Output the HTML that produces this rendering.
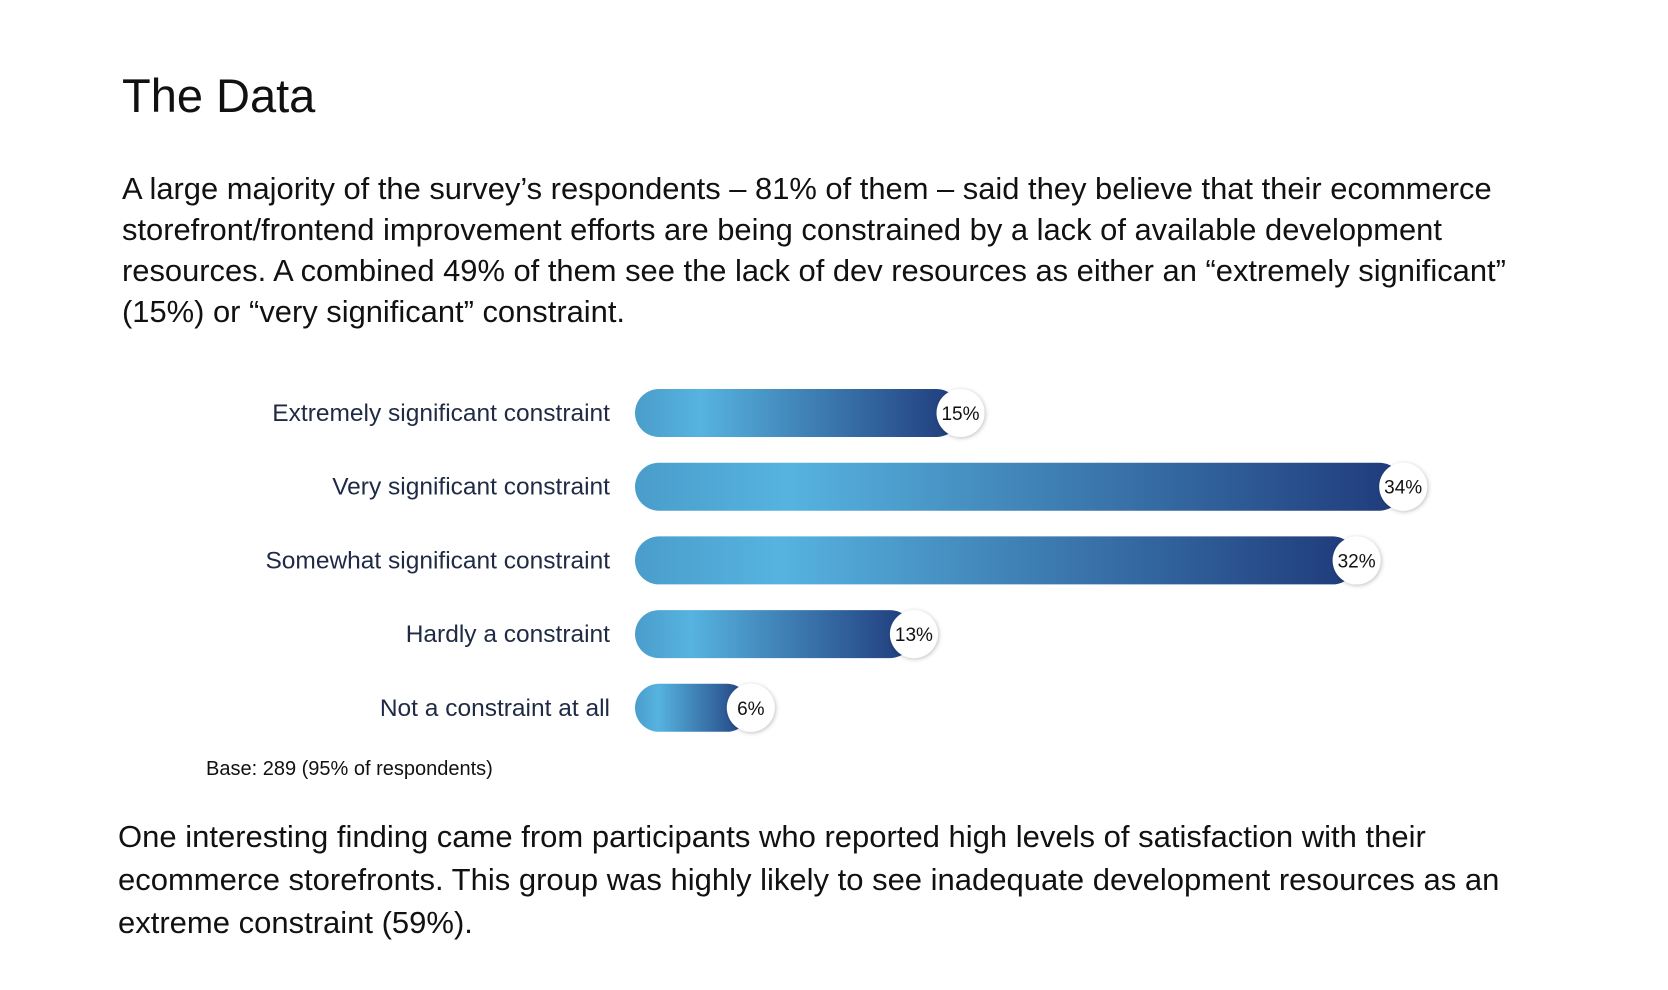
<!DOCTYPE html>
<html><head><meta charset="utf-8">
<style>
html,body{margin:0;padding:0;background:#fff;width:1668px;height:990px;overflow:hidden;font-family:"Liberation Sans",sans-serif;color:#111;}
#title{position:absolute;left:122px;top:68px;font-size:47px;margin:0;font-weight:normal;}
#intro{position:absolute;left:122px;top:168px;width:1540px;font-size:30.9px;line-height:41px;margin:0;white-space:nowrap;}
#outro{position:absolute;left:118px;top:815px;width:1440px;font-size:31px;line-height:43px;margin:0;}
svg{position:absolute;left:0;top:0;}
</style></head>
<body>
<h1 id="title">The Data</h1>
<p id="intro">A large majority of the survey’s respondents – 81% of them – said they believe that their ecommerce<br>storefront/frontend improvement efforts are being constrained by a lack of available development<br>resources. A combined 49% of them see the lack of dev resources as either an “extremely significant”<br>(15%) or “very significant” constraint.</p>
<svg id="chart" width="1668" height="990">
<defs>
<linearGradient id="g" x1="0" x2="1" y1="0" y2="0">
<stop offset="0" stop-color="#4a9dcb"/><stop offset="0.2" stop-color="#56b3df"/><stop offset="1" stop-color="#1f3a7a"/>
</linearGradient>
<filter id="sh" x="-50%" y="-50%" width="200%" height="200%"><feDropShadow dx="1" dy="1" stdDeviation="2" flood-color="#000" flood-opacity="0.25"/></filter>
</defs>
<text x="206" y="775" font-size="20" fill="#111">Base: 289 (95% of respondents)</text>
</svg>
<p id="outro">One interesting finding came from participants who reported high levels of satisfaction with their ecommerce storefronts. This group was highly likely to see inadequate development resources as an extreme constraint (59%).</p>
<script>
const categories = ["Extremely significant constraint","Very significant constraint","Somewhat significant constraint","Hardly a constraint","Not a constraint at all"];
const values = [15,34,32,13,6];
const valueLabels = ["15%","34%","32%","13%","6%"];
const svg = document.getElementById('chart');
const NS = 'http://www.w3.org/2000/svg';
const x0 = 635, pxPer = 23.3, y0 = 413, step = 73.7, h = 48;
function xs(v){ return x0 + v*pxPer; }
function ys(i){ return y0 + i*step; }
categories.forEach((c,i)=>{
  const cy = ys(i), xe = xs(values[i]);
  const lab = document.createElementNS(NS,'text');
  
  
  lab.setAttribute('x',610); lab.setAttribute('y',cy+8);
  lab.setAttribute('text-anchor','end'); lab.setAttribute('font-size','24.5');
  lab.setAttribute('fill','#1f2a44'); lab.textContent = c;
  svg.appendChild(lab);
  const bar = document.createElementNS(NS,'rect');
  
  
  bar.setAttribute('x',x0); bar.setAttribute('y',cy-h/2);
  bar.setAttribute('width',Math.max(h, xe-x0-h/2)); bar.setAttribute('height',h);
  bar.setAttribute('rx',h/2); bar.setAttribute('fill','url(#g)');
  svg.appendChild(bar);
  const cir = document.createElementNS(NS,'circle');
  
  
  cir.setAttribute('cx',xe-h/2); cir.setAttribute('cy',cy); cir.setAttribute('r',h/2);
  cir.setAttribute('fill','#fff'); cir.setAttribute('filter','url(#sh)');
  svg.appendChild(cir);
  const vt = document.createElementNS(NS,'text');
  
  
  vt.setAttribute('x',xe-h/2); vt.setAttribute('y',cy+7);
  vt.setAttribute('text-anchor','middle'); vt.setAttribute('font-size','19');
  vt.setAttribute('fill','#111'); vt.textContent = valueLabels[i];
  svg.appendChild(vt);
});
</script>
</body></html>
